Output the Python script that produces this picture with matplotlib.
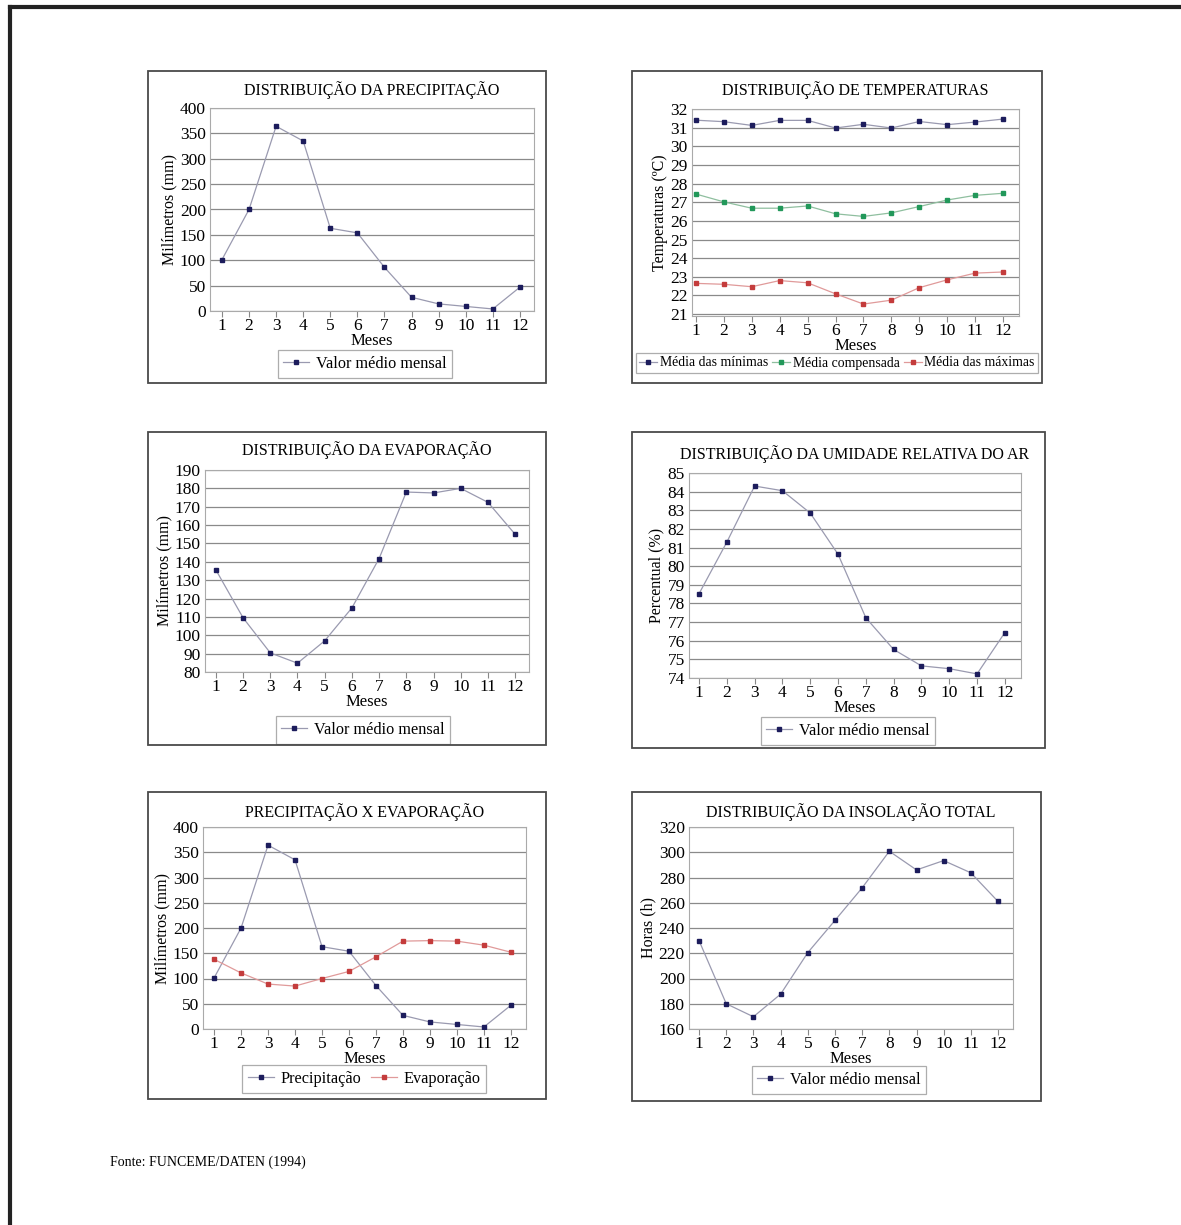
import matplotlib
matplotlib.use("Agg")
import matplotlib.pyplot as plt
from matplotlib.patches import Rectangle
from matplotlib.lines import Line2D

W, H = 1181, 1225
plt.rcParams['font.family'] = ['Liberation Serif', 'DejaVu Serif']

# ------------------------------------------------------------------
# data
# ------------------------------------------------------------------
months = list(range(1, 13))

precip = [101, 200, 364, 335, 163, 154, 86, 27, 14, 9, 4, 47]
evap = [135.6, 109.5, 90.4, 84.8, 97, 114.9, 141.8, 178, 177.5, 180, 172.4, 155]
evap_cmp = [138, 111, 89, 85, 100, 114, 143, 174, 175, 174, 166, 152]

temp_min = [31.40, 31.32, 31.12, 31.39, 31.39, 30.98, 31.18, 30.98, 31.33, 31.16, 31.30, 31.46]
temp_med = [27.44, 27.02, 26.68, 26.68, 26.80, 26.38, 26.24, 26.43, 26.77, 27.12, 27.37, 27.48]
temp_max = [22.65, 22.60, 22.47, 22.80, 22.68, 22.09, 21.54, 21.75, 22.42, 22.84, 23.20, 23.26]

humidity = [78.52, 81.29, 84.30, 84.05, 82.85, 80.64, 77.23, 75.53, 74.65, 74.50, 74.22, 76.44]
insolation = [230, 180, 169.7, 187.6, 220.5, 246, 271.8, 300.8, 286, 293.4, 283.7, 261]

NAVY = '#1c1c5c'
GREEN = '#22985a'
RED = '#c43c3c'
LINE_BLUE = '#9a9ab0'
LINE_GREEN = '#8fbf9f'
LINE_RED = '#e09a9a'


def fig_rect(x0, y0, x1, y1):
    return [x0 / W, 1 - y1 / H, (x1 - x0) / W, (y1 - y0) / H]


fig = plt.figure(figsize=(W / 100, H / 100), dpi=100)

# outer page frame (top and left only)
fig.add_artist(Line2D([10 / W, 1], [1 - 7 / H, 1 - 7 / H], lw=3, color='#222222'))
fig.add_artist(Line2D([10 / W, 10 / W], [1 - 7 / H, 0], lw=3, color='#222222'))


def panel(box, axbox, xlim, ylim, yticks, title, title_y, ylabel, series,
          leg_center, leg_ncol=1, leg_fs=11.7, leg_kw=None):
    x0, y0, x1, y1 = box
    fig.add_artist(Rectangle((x0 / W, 1 - y1 / H), (x1 - x0) / W, (y1 - y0) / H,
                             transform=fig.transFigure, fill=False,
                             edgecolor='#4a4a4a', lw=1.3))
    ax = fig.add_axes(fig_rect(*axbox))
    for vals, mcol, lcol, lab in series:
        ax.plot(months, vals, color=lcol, lw=0.9, marker='s', markersize=3.2,
                markerfacecolor=mcol, markeredgecolor=mcol, label=lab, zorder=3)
    ax.set_xlim(*xlim)
    ax.set_ylim(*ylim)
    ax.set_xticks(months)
    ax.set_yticks(yticks)
    ax.tick_params(axis='x', length=4, color='#888888', labelsize=12.5, pad=1)
    ax.tick_params(axis='y', length=0, labelsize=12.5, pad=3)
    ax.yaxis.grid(True, color='#8a8a8a', lw=0.9)
    ax.set_axisbelow(True)
    for s in ax.spines.values():
        s.set_color('#aaaaaa')
        s.set_linewidth(0.8)
    ax.set_xlabel('Meses', fontsize=12, labelpad=-1)
    ax.set_ylabel(ylabel, fontsize=11.5, labelpad=2)
    cx = (axbox[0] + axbox[2]) / 2
    fig.text(cx / W, 1 - title_y / H, title, ha='center', va='center', fontsize=11.5)
    kw = dict(handlelength=1.6, handletextpad=0.4, columnspacing=0.6, borderpad=0.35)
    if leg_kw:
        kw.update(leg_kw)
    leg = ax.legend(loc='center', bbox_to_anchor=(leg_center[0] / W, 1 - leg_center[1] / H),
                    bbox_transform=fig.transFigure, ncol=leg_ncol, fontsize=leg_fs,
                    frameon=True, fancybox=False, edgecolor='#999999',
                    borderaxespad=0, **kw)
    leg.get_frame().set_linewidth(0.9)
    return ax


# 1. precipitation
panel((148, 71, 546, 383), (210, 108, 534, 311), (0.56, 12.52), (0, 400),
      range(0, 401, 50), 'DISTRIBUIÇÃO DA PRECIPITAÇÃO', 90, 'Milímetros (mm)',
      [(precip, NAVY, LINE_BLUE, 'Valor médio mensal')], (365, 364))

# 2. temperatures
panel((632, 71, 1042, 383), (692, 109, 1019, 316), (0.86, 12.57), (20.9, 32),
      range(21, 33), 'DISTRIBUIÇÃO DE TEMPERATURAS', 90, 'Temperaturas (ºC)',
      [(temp_min, NAVY, LINE_BLUE, 'Média das mínimas'),
       (temp_med, GREEN, LINE_GREEN, 'Média compensada'),
       (temp_max, RED, LINE_RED, 'Média das máximas')],
      (837, 363), leg_ncol=3, leg_fs=9.9,
      leg_kw=dict(handlelength=1.3, handletextpad=0.2, columnspacing=0.3, borderpad=0.25))

# 3. evaporation
panel((148, 432, 546, 745), (205, 470, 529, 672), (0.6, 12.51), (80, 190),
      range(80, 191, 10), 'DISTRIBUIÇÃO DA EVAPORAÇÃO', 450, 'Milímetros (mm)',
      [(evap, NAVY, LINE_BLUE, 'Valor médio mensal')], (363, 730))

# 4. relative humidity
panel((632, 432, 1045, 748), (689, 473, 1021, 678), (0.64, 12.58), (74, 85),
      range(74, 86), 'DISTRIBUIÇÃO DA UMIDADE RELATIVA DO AR', 454, 'Percentual (%)',
      [(humidity, NAVY, LINE_BLUE, 'Valor médio mensal')], (848, 731))

# 5. precipitation x evaporation
panel((148, 792, 546, 1099), (203, 827, 526, 1029), (0.59, 12.56), (0, 400),
      range(0, 401, 50), 'PRECIPITAÇÃO X EVAPORAÇÃO', 812, 'Milímetros (mm)',
      [(precip, NAVY, LINE_BLUE, 'Precipitação'),
       (evap_cmp, RED, LINE_RED, 'Evaporação')],
      (364, 1079), leg_ncol=2)

# 6. insolation
panel((632, 792, 1041, 1101), (689, 827, 1013, 1029), (0.63, 12.55), (160, 320),
      range(160, 321, 20), 'DISTRIBUIÇÃO DA INSOLAÇÃO TOTAL', 812, 'Horas (h)',
      [(insolation, NAVY, LINE_BLUE, 'Valor médio mensal')], (839, 1080))

fig.text(110 / W, 1 - 1162 / H, 'Fonte: FUNCEME/DATEN (1994)', ha='left', va='center',
         fontsize=10)

fig.savefig('out.png', dpi=100, facecolor='white')
